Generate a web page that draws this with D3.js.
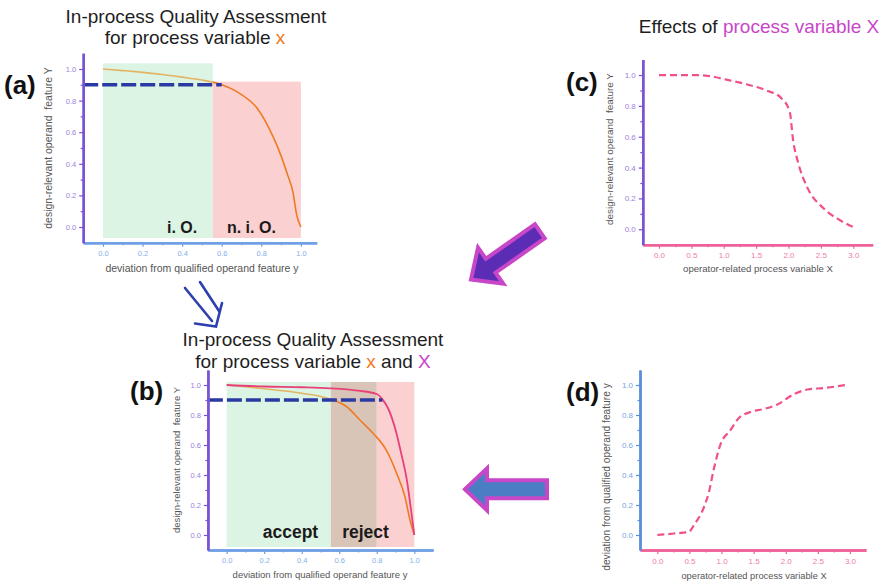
<!DOCTYPE html>
<html>
<head>
<meta charset="utf-8">
<script src="https://cdn.jsdelivr.net/npm/d3@7"></script>
<style>
  body { margin: 0; background: #fff; }
  svg { display: block; font-family: "Liberation Sans", Arial, sans-serif; }
  .ttl { font-size: 19px; fill: #1e1e1e; }
  .tag { font-size: 26px; font-weight: bold; fill: #111; }
  .axTitle { font-size: 10.5px; fill: #555; white-space: pre; }
  .zoneLbl { font-weight: bold; fill: #1a1a1a; }
  .tick text { font-size: 7.5px; }
</style>
</head>
<body>
<div id="chart"></div>
<script>
// ticks
const yTicks = [0, 0.2, 0.4, 0.6, 0.8, 1.0];
const yMinor = [0.1, 0.3, 0.5, 0.7, 0.9];
const devTicks = [0, 0.2, 0.4, 0.6, 0.8, 1.0];
const devMinor = [0.1, 0.3, 0.5, 0.7, 0.9];
const procTicks = [0, 0.5, 1.0, 1.5, 2.0, 2.5, 3.0];
const procMinor = [0.25, 0.75, 1.25, 1.75, 2.25, 2.75];

// (a) quality curve for variable x
const aDev = [0, 0.1, 0.19, 0.3, 0.39, 0.5, 0.6, 0.69, 0.78, 0.86, 0.9, 0.93, 0.96, 0.98, 1.0];
const aY   = [1.0, 0.99, 0.98, 0.965, 0.95, 0.93, 0.9, 0.846, 0.75, 0.57, 0.45, 0.34, 0.22, 0.07, 0.0];

// (b) quality curves for x (orange) and x + X (pink)
const bOrangeDev = [0, 0.2, 0.4, 0.55, 0.64, 0.71, 0.78, 0.85, 0.906, 0.95, 0.977, 1.0];
const bOrangeY   = [1.0, 0.975, 0.945, 0.907, 0.855, 0.767, 0.678, 0.567, 0.41, 0.255, 0.1, 0.0];
const bPinkDev = [0, 0.2, 0.4, 0.55, 0.7, 0.8, 0.83, 0.86, 0.9, 0.93, 0.96, 0.98, 1.0];
const bPinkY   = [1.0, 0.99, 0.985, 0.978, 0.962, 0.94, 0.904, 0.845, 0.7, 0.544, 0.367, 0.19, 0.0];

// (c) effect of X on feature Y
const cX = [0, 0.25, 0.5, 0.75, 1.04, 1.35, 1.66, 1.89, 2.02, 2.07, 2.15, 2.28, 2.54, 2.79, 3.02];
const cY = [1.0, 1.0, 1.0, 0.995, 0.97, 0.94, 0.9, 0.85, 0.76, 0.58, 0.43, 0.28, 0.136, 0.06, 0.01];

// (d) effect of X on deviation y
const dX = [0, 0.26, 0.49, 0.57, 0.73, 0.8, 0.88, 0.98, 1.14, 1.27, 1.45, 1.66, 1.87, 2.13, 2.34, 2.6, 2.93];
const dY = [0, 0.01, 0.02, 0.066, 0.19, 0.28, 0.44, 0.6, 0.7, 0.78, 0.82, 0.84, 0.87, 0.94, 0.97, 0.98, 1.0];

// thresholds and zones
const limitY = 0.9;
const aDashEnd = 0.6;
const bDashEnd = 0.83;
const aZoneOk = [0, 0.555];
const aZoneNok = [0.555, 1.0];
const bZoneAccept = [0, 0.555];
const bZoneMixed = [0.555, 0.8];
const bZoneReject = [0.8, 1.0];

const col = {
  purple: '#7a52d4', purpleTxt: '#9a82dc',
  lblue: '#6fa0e6', lblueTxt: '#86aee8',
  blue: '#5a8fd8', blueTxt: '#78a4e0',
  pink: '#f0609a', pinkTxt: '#f07aaa',
  orange: '#f07a22', tan: '#e2b464',
  curvePink: '#e8407a', dashPink: '#f0508c',
  navy: '#2a3aa2', magenta: '#c846c8',
  green: '#dcf4e4', red: '#fbd0d0', brown: '#d9c4b8'
};

const svg = d3.select('#chart').append('svg').attr('width', 884).attr('height', 581);
const defs = svg.append('defs');

function panel(xDomain, xRange, yRange) {
  const x = d3.scaleLinear().domain(xDomain).range(xRange);
  const y = d3.scaleLinear().domain([-0.1, 1.1]).range(yRange);
  return { g: svg.append('g'), x, y };
}

function zone(p, range, top, bottom, fill) {
  p.g.append('rect')
    .attr('x', p.x(range[0])).attr('width', p.x(range[1]) - p.x(range[0]))
    .attr('y', p.y(top)).attr('height', p.y(bottom) - p.y(top))
    .attr('fill', fill);
}

function curve(p, xs, ys, stroke, dash, width) {
  const line = d3.line().x(d => p.x(d[0])).y(d => p.y(d[1])).curve(d3.curveMonotoneX);
  p.g.append('path').datum(d3.zip(xs, ys))
    .attr('d', line).attr('fill', 'none')
    .attr('stroke', stroke).attr('stroke-width', width || 1.6)
    .attr('stroke-dasharray', dash || null);
}

// orange that looks tan under the green zone
function splitStroke(p, id, split) {
  const gr = defs.append('linearGradient').attr('id', id)
    .attr('gradientUnits', 'userSpaceOnUse')
    .attr('x1', p.x(0)).attr('x2', p.x(1)).attr('y1', 0).attr('y2', 0);
  gr.append('stop').attr('offset', split).attr('stop-color', col.tan);
  gr.append('stop').attr('offset', split).attr('stop-color', col.orange);
  return `url(#${id})`;
}

function limitLine(p, end) {
  p.g.append('line')
    .attr('x1', p.x.range()[0]).attr('x2', p.x(end))
    .attr('y1', p.y(limitY)).attr('y2', p.y(limitY))
    .attr('stroke', col.navy).attr('stroke-width', 3.5)
    .attr('stroke-dasharray', '15,4');
}

function axes(p, xTicks, xMinor, xFmt, xCol, xTxt, yCol, yTxt, fs) {
  const ax = p.g.append('g').attr('transform', `translate(0,${p.y.range()[0]})`);
  ax.append('g').call(d3.axisBottom(p.x).tickValues(xMinor).tickSize(2.5).tickSizeOuter(0).tickFormat(''));
  ax.append('g').call(d3.axisBottom(p.x).tickValues(xTicks).tickSize(4).tickPadding(4).tickSizeOuter(0).tickFormat(d3.format(xFmt)));
  ax.selectAll('path,line').attr('stroke', xCol);
  ax.selectAll('path').attr('stroke-width', 2.4);
  ax.selectAll('line').attr('stroke-width', 1.2);
  ax.selectAll('text').attr('fill', xTxt).style('font-size', fs + 'px');

  const ay = p.g.append('g').attr('transform', `translate(${p.x.range()[0]},0)`);
  ay.append('g').call(d3.axisLeft(p.y).tickValues(yMinor).tickSize(2.5).tickSizeOuter(0).tickFormat(''));
  ay.append('g').call(d3.axisLeft(p.y).tickValues(yTicks).tickSize(4).tickPadding(3).tickSizeOuter(0).tickFormat(d3.format('.1f')));
  ay.selectAll('path,line').attr('stroke', yCol);
  ay.selectAll('path').attr('stroke-width', 2.4);
  ay.selectAll('line').attr('stroke-width', 1.2);
  ay.selectAll('text').attr('fill', yTxt).style('font-size', fs + 'px');
}

function axTitle(x, y, txt, size, rot) {
  svg.append('text').attr('class', 'axTitle')
    .attr('transform', `translate(${x},${y})` + (rot ? ' rotate(-90)' : ''))
    .attr('text-anchor', 'middle').style('font-size', size + 'px').text(txt);
}

function label(p, xv, yv, txt, size) {
  p.g.append('text').attr('class', 'zoneLbl')
    .attr('x', p.x(xv)).attr('y', p.y(yv)).attr('text-anchor', 'middle')
    .style('font-size', size + 'px').text(txt);
}

// ---------- (a)
const pa = panel([-0.1, 1.08], [83.2, 316.7], [242.8, 53.2]);
zone(pa, aZoneOk, 1.036, -0.07, col.green);
zone(pa, aZoneNok, 0.92, -0.07, col.red);
curve(pa, aDev, aY, splitStroke(pa, 'gA', aZoneOk[1]));
limitLine(pa, aDashEnd);
label(pa, 0.4, -0.04, 'i. O.', 16);
label(pa, 0.75, -0.04, 'n. i. O.', 16);
axes(pa, devTicks, devMinor, '.1f', col.lblue, col.lblueTxt, col.purple, col.purpleTxt, 7.5);
axTitle(202, 272, 'deviation from qualified operand feature y', 10.5);
axTitle(52, 148, 'design-relevant operand  feature Y', 10.5, true);

// ---------- (b)
const pb = panel([-0.1, 1.1], [207.9, 433.1], [550, 370]);
zone(pb, bZoneAccept, 1.02, -0.08, col.green);
zone(pb, bZoneMixed, 1.02, -0.08, col.brown);
zone(pb, bZoneReject, 1.02, -0.08, col.red);
curve(pb, bOrangeDev, bOrangeY, splitStroke(pb, 'gB', bZoneAccept[1]));
curve(pb, bPinkDev, bPinkY, col.curvePink, null, 1.8);
limitLine(pb, bDashEnd);
label(pb, 0.34, -0.02, 'accept', 17.5);
label(pb, 0.74, -0.02, 'reject', 17.5);
axes(pb, devTicks, devMinor, '.1f', col.lblue, col.lblueTxt, col.purple, col.purpleTxt, 7.5);
axTitle(320, 578, 'deviation from qualified operand feature y', 9.5);
axTitle(180, 460, 'design-relevant operand  feature Y', 9.5, true);

// ---------- (c)
const pc = panel([-0.25, 3.3], [642.8, 872.7], [244.7, 59.6]);
curve(pc, cX, cY, col.dashPink, '7,4', 2.2);
axes(pc, procTicks, procMinor, '.1f', col.pink, col.pinkTxt, col.purple, col.purpleTxt, 8);
axTitle(758, 272, 'operator-related process variable X', 9.6);
axTitle(613, 149, 'design-relevant operand  feature Y', 9.9, true);

// ---------- (d)
const pd = panel([-0.27, 3.25], [640, 866], [550, 370]);
curve(pd, dX, dY, col.dashPink, '7,4', 2.2);
axes(pd, procTicks, procMinor, '.1f', col.pink, col.pinkTxt, col.blue, col.blueTxt, 8);
axTitle(754, 579, 'operator-related process variable X', 9.3);
axTitle(610, 477, 'deviation from qualified operand feature y', 10.2, true);

// ---------- titles
function title(x, y, parts) {
  const t = svg.append('text').attr('class', 'ttl').attr('x', x).attr('y', y).attr('text-anchor', 'middle');
  parts.forEach(pt => t.append('tspan').attr('fill', pt[1] || null).text(pt[0]));
}
title(196, 23, [['In-process Quality Assessment']]);
title(195, 44, [['for process variable '], ['x', col.orange]]);
title(313, 346, [['In-process Quality Assessment']]);
title(313, 368, [['for process variable '], ['x', col.orange], [' and '], ['X', col.magenta]]);
title(759, 33, [['Effects of '], ['process variable X', col.magenta]]);

svg.append('text').attr('class', 'tag').attr('x', 4).attr('y', 94).text('(a)');
svg.append('text').attr('class', 'tag').attr('x', 130).attr('y', 400).text('(b)');
svg.append('text').attr('class', 'tag').attr('x', 566).attr('y', 91).text('(c)');
svg.append('text').attr('class', 'tag').attr('x', 566).attr('y', 401).text('(d)');

// ---------- arrows
function blockArrow(tx, ty, angle, len, headLen, headHalf, shaftHalf, fill) {
  const pts = [[0, 0], [-headLen, -headHalf], [-headLen, -shaftHalf], [-len, -shaftHalf],
               [-len, shaftHalf], [-headLen, shaftHalf], [-headLen, headHalf]];
  svg.append('path')
    .attr('d', d3.line()(pts) + 'Z')
    .attr('transform', `translate(${tx},${ty}) rotate(${angle})`)
    .attr('fill', fill).attr('stroke', col.magenta).attr('stroke-width', 4)
    .attr('stroke-linejoin', 'miter');
}
blockArrow(471, 279.5, 145, 84, 24, 22, 8.5, '#5a2db4');
blockArrow(465, 489.3, 180, 82, 22, 21, 9, '#4a7ec4');

// open double arrow between (a) and (b)
svg.append('path')
  .attr('d', 'M185,288 L212,321 M200,282 L219,311 M195,323.5 L216,326.5 L222,303')
  .attr('fill', 'none').attr('stroke', '#2e3fae').attr('stroke-width', 2.6)
  .attr('stroke-linecap', 'round').attr('stroke-linejoin', 'miter');
</script>
</body>
</html>
